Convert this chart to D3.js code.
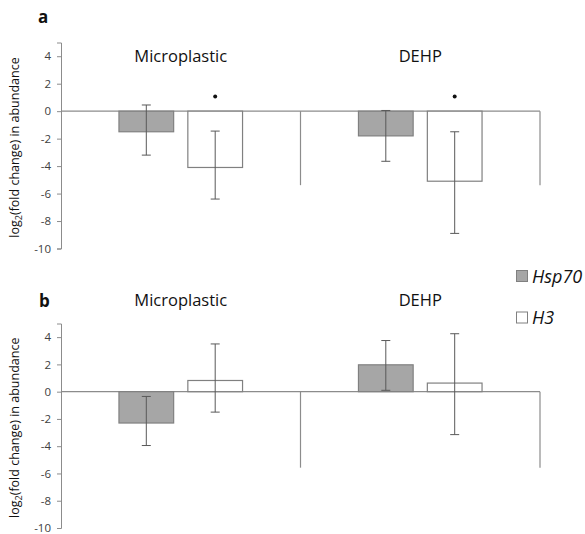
<!DOCTYPE html>
<html>
<head>
<meta charset="utf-8">
<script src="https://cdn.jsdelivr.net/npm/d3@7"></script>
<style>
  body { margin: 0; background: #fff; }
  text { font-family: "Open Sans", "Lato", sans-serif; }
</style>
</head>
<body>
<svg id="chart" width="585" height="534"></svg>
<script>
var categories = ["Microplastic", "DEHP"];
var series = ["Hsp70", "H3"];
var yTicks = [4, 2, 0, -2, -4, -6, -8, -10];

// panel a
var aHsp70 = [-1.5, -1.8];
var aHsp70Hi = [0.45, 0.05];
var aHsp70Lo = [-3.2, -3.65];
var aH3 = [-4.1, -5.1];
var aH3Hi = [-1.45, -1.5];
var aH3Lo = [-6.4, -8.9];
var aH3Sig = [true, true];

// panel b
var bHsp70 = [-2.3, 1.97];
var bHsp70Hi = [-0.35, 3.75];
var bHsp70Lo = [-3.95, 0.1];
var bH3 = [0.82, 0.63];
var bH3Hi = [3.5, 4.25];
var bH3Lo = [-1.5, -3.15];
var bH3Sig = [false, false];

var sigLevel = 1.0;   // where the asterisk dot sits

var colors = { Hsp70: "#a6a6a6", H3: "#ffffff" };
var barStroke = "#808080";
var axisColor = "#8c8c8c";
var errColor = "#595959";

var svg = d3.select("#chart");

var x0 = d3.scaleBand().domain(categories).range([61, 540]);
var bw = x0.bandwidth();
var x1 = d3.scaleBand().domain(series)
           .range([bw * 0.242, bw * 0.758]).paddingInner(0.206);

function makeRows(vals, hi, lo, sig) {
  return categories.map(function(c, i) {
    return { cat: c, v: vals[i], hi: hi[i], lo: lo[i], sig: sig ? sig[i] : false };
  });
}

function drawPanel(opt) {
  var g = svg.append("g");
  var y = d3.scaleLinear().domain([-10, 5]).range([opt.bottom, opt.top]);

  // y axis
  var yAxis = d3.axisLeft(y).tickValues(yTicks).tickSize(4).tickPadding(6)
                .tickFormat(function(d) { return String(d); });
  var ya = g.append("g").attr("transform", "translate(61,0)").call(yAxis);
  ya.select(".domain").attr("stroke", axisColor);
  ya.selectAll(".tick line").attr("stroke", axisColor);
  ya.selectAll(".tick text").attr("fill", "#404040")
    .style("font-size", "11.5px").style("font-family", "'Open Sans', sans-serif");

  // zero line + long category separators
  g.append("line")
    .attr("x1", 61).attr("x2", 540)
    .attr("y1", y(0)).attr("y2", y(0))
    .attr("stroke", axisColor).attr("stroke-width", 1.2);
  g.selectAll(".sep").data(categories).enter().append("line")
    .attr("x1", function(d) { return x0(d) + bw; })
    .attr("x2", function(d) { return x0(d) + bw; })
    .attr("y1", y(0)).attr("y2", y(0) + opt.sepLen)
    .attr("stroke", axisColor).attr("stroke-width", 1.2);

  // category labels
  g.selectAll(".cat").data(categories).enter().append("text")
    .attr("x", function(d) { return x0(d) + bw / 2; })
    .attr("y", opt.catY)
    .attr("text-anchor", "middle")
    .style("font-size", "16.5px")
    .attr("fill", "#111")
    .text(function(d) { return d; });

  // bars + error bars
  opt.data.forEach(function(s) {
    var rows = makeRows(s.vals, s.hi, s.lo, s.sig);
    var bars = g.selectAll(".bar-" + s.name).data(rows).enter();
    bars.append("rect")
      .attr("x", function(d) { return x0(d.cat) + x1(s.name); })
      .attr("width", x1.bandwidth())
      .attr("y", function(d) { return y(Math.max(0, d.v)); })
      .attr("height", function(d) { return Math.abs(y(d.v) - y(0)); })
      .attr("fill", colors[s.name])
      .attr("stroke", barStroke).attr("stroke-width", 1.2);

    var cx = function(d) { return x0(d.cat) + x1(s.name) + x1.bandwidth() / 2; };
    bars.append("line")
      .attr("x1", cx).attr("x2", cx)
      .attr("y1", function(d) { return y(d.hi); })
      .attr("y2", function(d) { return y(d.lo); })
      .attr("stroke", errColor).attr("stroke-width", 1);
    ["hi", "lo"].forEach(function(k) {
      bars.append("line")
        .attr("x1", function(d) { return cx(d) - 4.5; })
        .attr("x2", function(d) { return cx(d) + 4.5; })
        .attr("y1", function(d) { return y(d[k]); })
        .attr("y2", function(d) { return y(d[k]); })
        .attr("stroke", errColor).attr("stroke-width", 1);
    });
    bars.filter(function(d) { return d.sig; }).append("circle")
      .attr("cx", cx).attr("cy", y(sigLevel) - 1)
      .attr("r", 2).attr("fill", "#111");
  });

  // y label
  g.append("text")
    .attr("transform", "translate(19," + ((opt.top + opt.bottom) / 2 + 2) + ") rotate(-90)")
    .attr("text-anchor", "middle")
    .style("font-size", "12.5px")
    .attr("fill", "#111")
    .html('log<tspan dy="3" font-size="9px">2</tspan><tspan dy="-3">(fold change) in abundance</tspan>');

  // panel letter
  g.append("text")
    .attr("x", opt.letterX).attr("y", opt.letterY)
    .style("font-size", "17px").style("font-weight", "bold")
    .attr("fill", "#111")
    .text(opt.letter);
}

drawPanel({
  letter: "a", letterX: 38, letterY: 23,
  top: 42.5, bottom: 248.5, catY: 62, sepLen: 74,
  data: [
    { name: "Hsp70", vals: aHsp70, hi: aHsp70Hi, lo: aHsp70Lo },
    { name: "H3", vals: aH3, hi: aH3Hi, lo: aH3Lo, sig: aH3Sig }
  ]
});

drawPanel({
  letter: "b", letterX: 39, letterY: 307,
  top: 323.5, bottom: 528, catY: 306, sepLen: 76,
  data: [
    { name: "Hsp70", vals: bHsp70, hi: bHsp70Hi, lo: bHsp70Lo },
    { name: "H3", vals: bH3, hi: bH3Hi, lo: bH3Lo, sig: bH3Sig }
  ]
});

// legend
var legend = svg.append("g").attr("transform", "translate(516,270)");
series.forEach(function(s, i) {
  var row = legend.append("g").attr("transform", "translate(0," + (i * 41.5) + ")");
  row.append("rect").attr("x", 0.5).attr("y", 0.5).attr("width", 11).attr("height", 11)
    .attr("fill", colors[s]).attr("stroke", barStroke);
  row.append("text").attr("x", 16).attr("y", 12.5)
    .style("font-size", "18px").style("font-style", "italic")
    .attr("fill", "#111")
    .text(s);
});
</script>
</body>
</html>
